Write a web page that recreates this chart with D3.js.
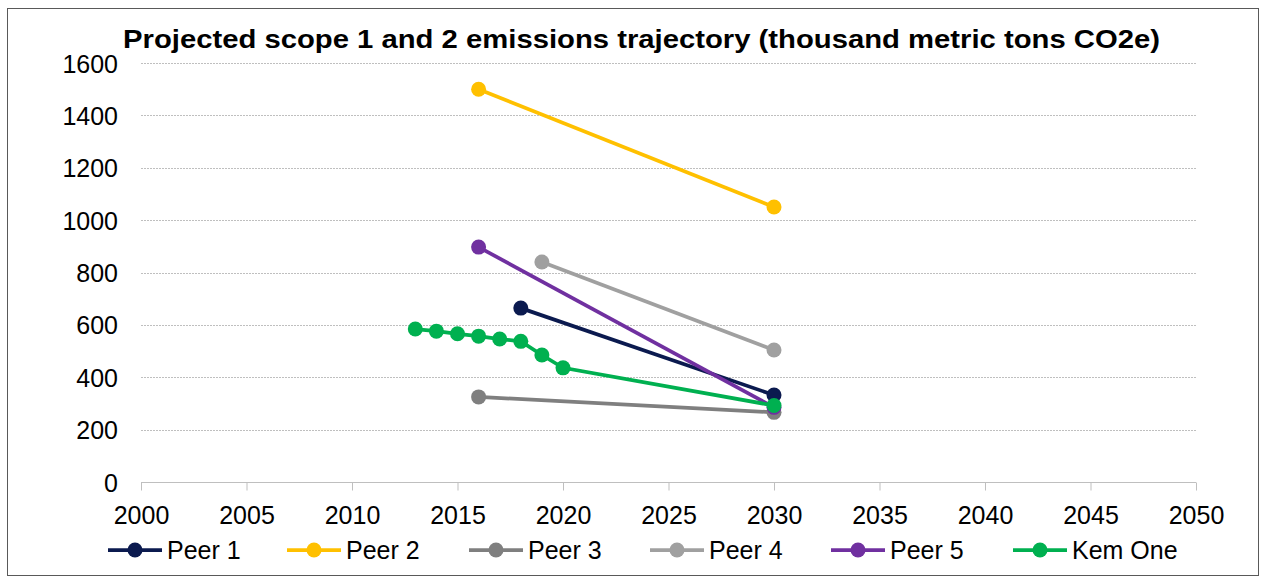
<!DOCTYPE html>
<html><head><meta charset="utf-8">
<script src="https://cdn.jsdelivr.net/npm/d3@7"></script>
<style>body{margin:0;background:#fff;} svg{display:block;font-family:"Liberation Sans",Arial,sans-serif;}</style>
</head><body>
<svg id="chart" width="1266" height="583"></svg>
<script>
const title = "Projected scope 1 and 2 emissions trajectory (thousand metric tons CO2e)";
const seriesNames = ["Peer 1","Peer 2","Peer 3","Peer 4","Peer 5","Kem One"];
const seriesColors = ["#0b1a4f","#ffc000","#7f7f7f","#a0a0a0","#7030a0","#00b050"];
const peer1Years = [2018, 2030];
const peer1Values = [664, 332];
const peer2Years = [2016, 2030];
const peer2Values = [1500, 1050];
const peer3Years = [2016, 2030];
const peer3Values = [325, 266];
const peer4Years = [2019, 2030];
const peer4Values = [840, 504];
const peer5Years = [2016, 2030];
const peer5Values = [897, 285];
const kemOneYears = [2013, 2014, 2015, 2016, 2017, 2018, 2019, 2020, 2030];
const kemOneValues = [584, 576, 566, 557, 546, 537, 485, 436, 292];
const xTicks = [2000,2005,2010,2015,2020,2025,2030,2035,2040,2045,2050];
const yTicks = [0,200,400,600,800,1000,1200,1400,1600];

const allYears = [peer1Years, peer2Years, peer3Years, peer4Years, peer5Years, kemOneYears];
const allValues = [peer1Values, peer2Values, peer3Values, peer4Values, peer5Values, kemOneValues];
const series = seriesNames.map((n,i)=>({name:n,color:seriesColors[i],
  pts: allYears[i].map((y,j)=>({x:y,y:allValues[i][j]}))}));

const FONT = "'Liberation Sans',Arial,sans-serif";
const svg = d3.select("#chart");
svg.append("rect").attr("x",7.5).attr("y",8.5).attr("width",1251).attr("height",567)
  .attr("fill","#fff").attr("stroke","#595959").attr("stroke-width",1);

const x = d3.scaleLinear().domain([2000,2050]).range([141,1196]);
const y = d3.scaleLinear().domain([0,1600]).range([482,63]);

// gridlines
svg.append("g").selectAll("line").data(yTicks.filter(d=>d>0)).join("line")
  .attr("x1",141).attr("x2",1196).attr("y1",d=>Math.round(y(d))+0.5).attr("y2",d=>Math.round(y(d))+0.5)
  .attr("stroke","#bfbfbf").attr("stroke-width",1).attr("stroke-dasharray","2,1");

// x axis
const xAxis = d3.axisBottom(x).tickValues(xTicks).tickFormat(d3.format("d")).tickSize(8).tickPadding(8);
const gx = svg.append("g").attr("transform",`translate(0,${Math.round(y(0))+0.5})`).call(xAxis);
gx.select(".domain").attr("stroke","#bfbfbf").attr("d","M141,0H1196");
gx.selectAll(".tick line").attr("stroke","#bfbfbf");
gx.selectAll(".tick text").attr("font-size",25).attr("fill","#000").attr("font-family",FONT)
  .attr("y",41).attr("dy",null);

// y axis
const yAxis = d3.axisLeft(y).tickValues(yTicks).tickFormat(d3.format("d")).tickSize(0).tickPadding(23);
const gy = svg.append("g").attr("transform","translate(141,0)").call(yAxis);
gy.select(".domain").remove();
gy.selectAll(".tick text").attr("font-size",25).attr("fill","#000").attr("font-family",FONT)
  .attr("dy",9);

// series
const line = d3.line().x(d=>x(d.x)).y(d=>y(d.y));
series.forEach(s=>{
  const g = svg.append("g");
  g.append("path").attr("d",line(s.pts)).attr("fill","none").attr("stroke",s.color).attr("stroke-width",3.75);
  g.selectAll("circle").data(s.pts).join("circle").attr("cx",d=>x(d.x)).attr("cy",d=>y(d.y)).attr("r",7.5).attr("fill",s.color);
});

// title
svg.append("text").attr("x",123).attr("y",48)
  .attr("font-size",26).attr("font-weight","bold").attr("fill","#000").attr("font-family",FONT)
  .attr("textLength",1037).attr("lengthAdjust","spacingAndGlyphs").text(title);

// legend
const legendX = [108,287,469,650,831,1013];
const lg = svg.append("g").selectAll("g").data(series).join("g")
  .attr("transform",(d,i)=>`translate(${legendX[i]},550)`);
lg.append("line").attr("x1",0).attr("x2",54).attr("stroke",d=>d.color).attr("stroke-width",3.75);
lg.append("circle").attr("cx",27).attr("r",7.5).attr("fill",d=>d.color);
lg.append("text").attr("x",59).attr("y",9).attr("font-size",25).attr("fill","#000").attr("font-family",FONT).text(d=>d.name);
</script>
</body></html>
